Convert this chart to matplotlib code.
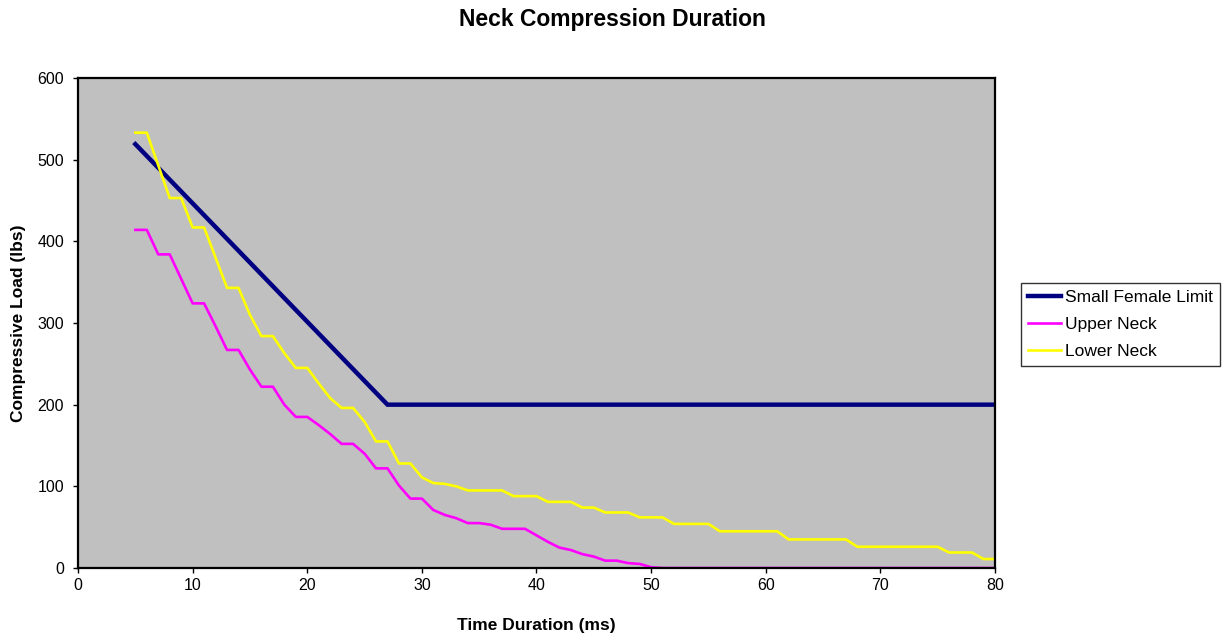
import matplotlib
matplotlib.use("Agg")
import matplotlib.pyplot as plt

plt.rcParams['font.family'] = ['Liberation Sans', 'DejaVu Sans']

# time (ms) for the measured curves
time_ms = list(range(5, 81))

upper_neck = [414, 414, 384, 384, 354, 324, 324, 296, 267, 267,
              243, 222, 222, 200, 185, 185, 175, 164, 152, 152,
              140, 122, 122, 101, 85, 85, 71, 65, 61, 55,
              55, 53, 48, 48, 48, 40, 32, 25, 22, 17,
              14, 9, 9, 6, 5, 1] + [0] * 30

lower_neck = [533, 533, 493, 453, 453, 417, 417, 380, 343, 343,
              310, 284, 284, 263, 245, 245, 226, 208, 196, 196,
              179, 155, 155, 128, 128, 111, 104, 103, 100, 95,
              95, 95, 95, 88, 88, 88, 81, 81, 81, 74,
              74, 68, 68, 68, 62, 62, 62, 54, 54, 54,
              54, 45, 45, 45, 45, 45, 45, 35, 35, 35,
              35, 35, 35, 26, 26, 26, 26, 26, 26, 26,
              26, 19, 19, 19, 11, 11]

# small female limit
limit_t = [5, 27, 80]
limit_load = [519, 200, 200]

fig = plt.figure(figsize=(12.25, 6.36), dpi=100)
ax = fig.add_axes([0.0637, 0.1069, 0.7485, 0.7705])
ax.set_facecolor('#C0C0C0')

ax.plot(limit_t, limit_load, color='#000080', lw=3.2, label='Small Female Limit',
        solid_joinstyle='miter')
ax.plot(time_ms, upper_neck, color='#FF00FF', lw=1.9, label='Upper Neck')
ax.plot(time_ms, lower_neck, color='#FFFF00', lw=1.9, label='Lower Neck')

ax.set_xlim(0, 80)
ax.set_ylim(0, 600)
ax.set_xticks(range(0, 81, 10))
ax.set_yticks(range(0, 601, 100))
ax.tick_params(axis='y', direction='out', length=3.5, width=1, pad=6.5, labelsize=11.5)
ax.tick_params(axis='x', direction='out', length=3.5, width=1, pad=3.5, labelsize=11.5)
for s in ax.spines.values():
    s.set_linewidth(1.6)
    s.set_color('black')

ax.set_xlabel('Time Duration (ms)', fontsize=12.5, fontweight='bold', labelpad=18.5)
ax.set_ylabel('Compressive Load (lbs)', fontsize=12.5, fontweight='bold', labelpad=8)
fig.suptitle('Neck Compression Duration', fontsize=16.5, fontweight='bold', y=0.987)

leg = ax.legend(loc='upper left', bbox_to_anchor=(0.8335, 0.555), bbox_transform=fig.transFigure,
                borderaxespad=0, fontsize=12.5, frameon=True, fancybox=False,
                handlelength=1.9, handletextpad=0.25, borderpad=0.4, labelspacing=0.67)
leg.get_frame().set_edgecolor('black')
leg.get_frame().set_linewidth(1.0)

fig.savefig('out.png', dpi=100)
